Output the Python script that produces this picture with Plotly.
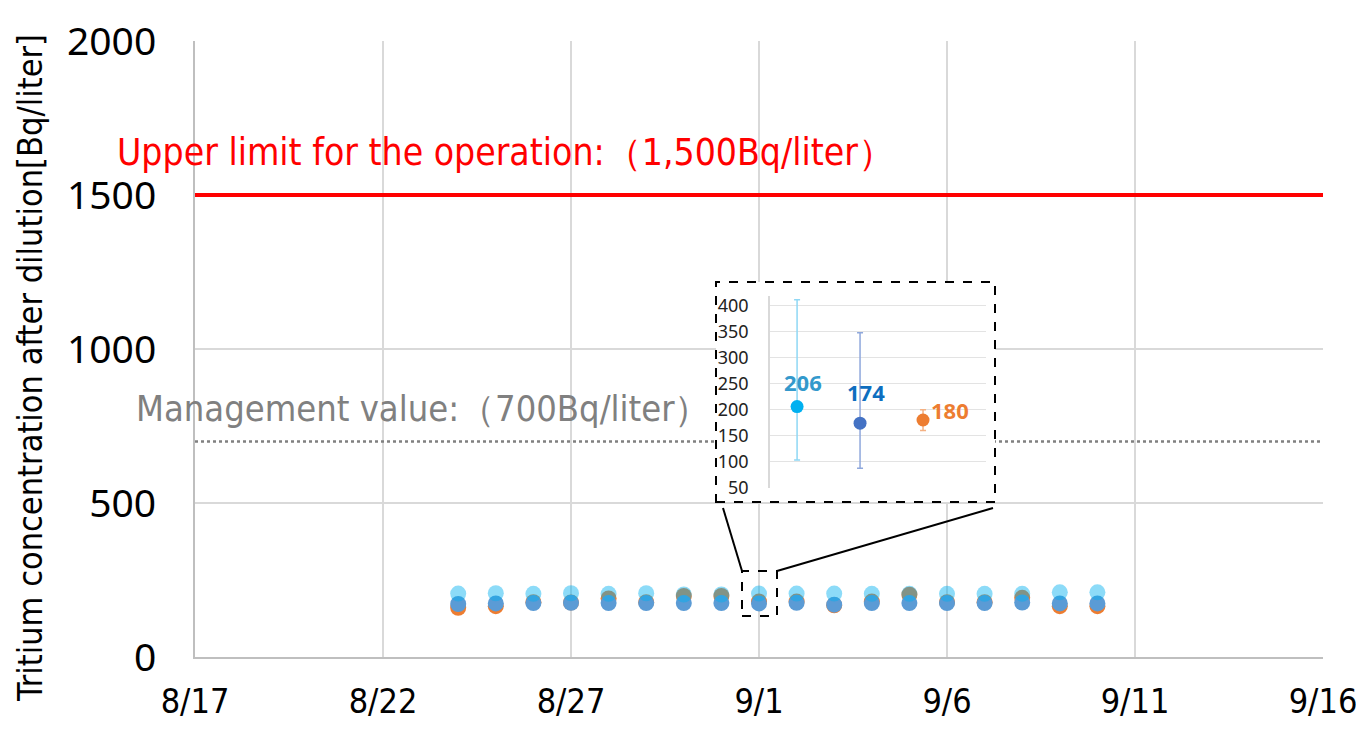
import plotly.graph_objects as go

# ---------------- data ----------------
dates = ["2023-08-24", "2023-08-25", "2023-08-26", "2023-08-27", "2023-08-28", "2023-08-29",
         "2023-08-30", "2023-08-31", "2023-09-01", "2023-09-02", "2023-09-03", "2023-09-04",
         "2023-09-05", "2023-09-06", "2023-09-07", "2023-09-08", "2023-09-09", "2023-09-10"]
light_blue_vals = [206, 207, 205, 207, 205, 207, 203, 203, 206, 206, 206, 205, 205, 205, 205, 205, 210, 210]
orange_vals = [160, 165, 178, 177, 190, 178, 198, 198, 180, 180, 168, 180, 202, 178, 178, 192, 165, 165]
blue_vals = [172, 174, 175, 176, 175, 175, 175, 175, 174, 176, 170, 175, 175, 175, 175, 177, 174, 174]

x_range = ["2023-08-17", "2023-09-16"]
y_ticks = [0, 500, 1000, 1500, 2000]
upper_limit = 1500
management_value = 700

# inset (9/1 sample)
inset_pos = [1, 2, 3]
inset_vals = [206, 174, 180]
inset_err_plus = [206, 174, 20]
inset_err_minus = [103, 87, 20]
inset_ticks = [50, 100, 150, 200, 250, 300, 350, 400]

# ---------------- geometry (page pixels; body has an 8px margin) ----------------
OFF = 8
PAGE_W, PAGE_H = 1364, 732
W, H = PAGE_W - 2 * OFF, PAGE_H - 2 * OFF
L, R, T, B = 195, 1323, 41, 657   # plot area in page pixels


def px(x):
    return (x - L) / (R - L)


def py(y):
    return (B - y) / (B - T)


NARROW = "Liberation Sans Narrow, DejaVu Sans Condensed, Arial Narrow, sans-serif"
WIDE = "Noto Sans, Open Sans, DejaVu Sans, sans-serif"

fig = go.Figure()

# reference lines
fig.add_trace(go.Scatter(x=x_range, y=[upper_limit] * 2, mode="lines",
                         line=dict(color="#FF0000", width=4), hoverinfo="skip", showlegend=False))
fig.add_trace(go.Scatter(x=x_range, y=[management_value] * 2, mode="lines",
                         line=dict(color="#808080", width=2.5, dash="dot"), hoverinfo="skip", showlegend=False))

# data series
fig.add_trace(go.Scatter(x=dates, y=orange_vals, mode="markers",
                         marker=dict(size=16, color="#ED7D31"), showlegend=False))
fig.add_trace(go.Scatter(x=dates, y=blue_vals, mode="markers",
                         marker=dict(size=16, color="#5B9BD5"), showlegend=False))
fig.add_trace(go.Scatter(x=dates, y=light_blue_vals, mode="markers",
                         marker=dict(size=16, color="rgba(0,176,240,0.45)"), showlegend=False))

# frame subplot (white background behind the inset)
fig.add_trace(go.Scatter(x=[], y=[], xaxis="x2", yaxis="y2", showlegend=False, hoverinfo="skip"))

# inset traces
inset_colors = ["#00B0F0", "#4472C4", "#ED7D31"]
err_colors = ["#8FD8F5", "#8FA8DC", "#F4B183"]
for i in range(3):
    fig.add_trace(go.Scatter(
        x=[inset_pos[i]], y=[inset_vals[i]], mode="markers", xaxis="x3", yaxis="y3",
        marker=dict(size=13, color=inset_colors[i]),
        error_y=dict(type="data", symmetric=False, array=[inset_err_plus[i]],
                     arrayminus=[inset_err_minus[i]], color=err_colors[i], thickness=1.5, width=3),
        showlegend=False))

label_colors = ["#3399CC", "#0E6EBF", "#ED7D31"]
label_shift = [(6, 25), (6, 31), (27, 10)]
annotations = []
for i in range(3):
    annotations.append(dict(x=inset_pos[i], y=inset_vals[i], xref="x3", yref="y3",
                            text="<b>%d</b>" % inset_vals[i], showarrow=False,
                            xshift=label_shift[i][0], yshift=label_shift[i][1],
                            font=dict(family=WIDE, size=22, color=label_colors[i])))

annotations += [
    dict(x=px(115), y=py(152), xref="paper", yref="paper", xanchor="left", yanchor="middle",
         text="Upper limit for the operation:（1,500Bq/liter）", showarrow=False,
         font=dict(family=NARROW, size=37, color="#FF0000")),
    dict(x=px(134), y=py(408), xref="paper", yref="paper", xanchor="left", yanchor="middle",
         text="Management value:（700Bq/liter）", showarrow=False,
         font=dict(family=NARROW, size=36, color="#808080")),
    dict(x=px(30), y=py(368), xref="paper", yref="paper", xanchor="center", yanchor="middle",
         text="Tritium concentration after dilution[Bq/liter]", showarrow=False, textangle=-90,
         font=dict(family=NARROW, size=34, color="#000000")),
]

shapes = [
    dict(type="rect", xref="paper", yref="paper", x0=px(716), x1=px(995), y0=py(502), y1=py(282),
         line=dict(color="black", width=2, dash="dash"), layer="above"),
    dict(type="rect", xref="paper", yref="paper", x0=px(742), x1=px(777), y0=py(616), y1=py(571),
         line=dict(color="black", width=2, dash="dash"), layer="above"),
    dict(type="line", xref="paper", yref="paper", x0=px(723), y0=py(508), x1=px(742), y1=py(571),
         line=dict(color="black", width=2), layer="above"),
    dict(type="line", xref="paper", yref="paper", x0=px(993), y0=py(508), x1=px(777), y1=py(571),
         line=dict(color="black", width=2), layer="above"),
]

fig.update_layout(
    width=W, height=H,
    margin=dict(l=L - OFF, r=W - (R - OFF), t=T - OFF, b=H - (B - OFF), pad=0, autoexpand=False),
    paper_bgcolor="white", plot_bgcolor="white",
    showlegend=False,
    xaxis=dict(type="date", range=x_range, tick0=x_range[0], dtick=5 * 86400000,
               tickformat="%-m/%-d", showgrid=True, gridcolor="#D9D9D9", gridwidth=2,
               showline=True, linecolor="#BFBFBF", linewidth=2, zeroline=False, ticks="",
               automargin=False, ticklabeloverflow="allow",
               ticklabelstandoff=13, tickfont=dict(family=NARROW, size=34, color="black")),
    yaxis=dict(range=[0, 2000], tickvals=y_ticks, showgrid=True, gridcolor="#D9D9D9", gridwidth=2,
               showline=True, linecolor="#BFBFBF", linewidth=2, zeroline=False, ticks="",
               automargin=False, ticklabeloverflow="allow",
               ticklabelstandoff=29, tickfont=dict(family=WIDE, size=39, color="black")),
    xaxis2=dict(domain=[px(716), px(995)], anchor="y2", range=[0, 1], visible=False, fixedrange=True),
    yaxis2=dict(domain=[py(502), py(282)], anchor="x2", range=[0, 1], visible=False, fixedrange=True),
    xaxis3=dict(domain=[px(770), px(986)], anchor="y3", range=[0.57, 4.0], visible=False, fixedrange=True),
    yaxis3=dict(domain=[py(488), py(296)], anchor="x3", range=[49, 419], tickvals=inset_ticks,
                showgrid=True, gridcolor="#E3E3E3", gridwidth=1, zeroline=False,
                showline=True, linecolor="#D9D9D9", linewidth=1.5, ticks="",
                automargin=False,
                ticklabelstandoff=16, tickfont=dict(family=WIDE, size=18, color="#222222"),
                fixedrange=True),
    annotations=annotations,
    shapes=shapes,
)

fig.write_html("out.html")
